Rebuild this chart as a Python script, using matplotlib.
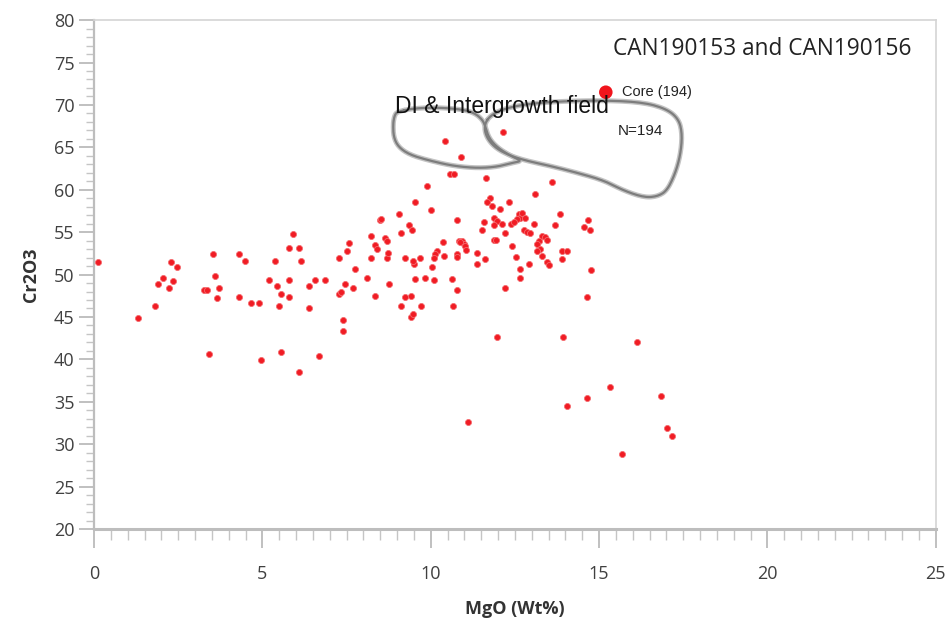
import numpy as np
import matplotlib
matplotlib.use("Agg")
import matplotlib.pyplot as plt
from matplotlib.ticker import MultipleLocator

# ---- data (MgO wt%, Cr2O3 wt%) ----
mgo = [
    0.13, 1.32, 1.81, 1.91, 2.04, 2.22, 2.34, 2.28, 2.47, 3.40, 3.54, 3.59, 3.28, 3.35, 3.71, 3.65,
    4.31, 4.48, 4.31, 4.66, 4.90, 4.96, 5.38, 5.20, 5.44, 5.55, 5.80, 5.50, 5.80, 5.55, 6.09, 5.91,
    5.80, 6.09, 6.14, 6.38, 6.57, 6.38, 6.87, 6.68, 7.27, 7.51, 7.58, 7.27, 7.33, 7.46, 7.76, 7.70,
    7.39, 7.39, 8.11, 8.22, 8.22, 8.34, 8.35, 8.40, 8.48, 8.53, 8.65, 8.70, 8.70, 8.75, 8.73,
    9.54, 10.01, 9.07, 9.35, 9.44, 9.13, 10.78, 10.36, 10.85, 10.93, 10.98, 10.88, 11.03, 11.06,
    10.19, 10.12, 10.38, 10.78, 10.78, 10.09, 10.04, 9.67, 9.49, 9.47, 9.25, 9.54, 9.84, 10.09,
    10.63, 10.79, 9.24, 9.42, 9.12, 9.72, 10.66, 9.42, 9.47, 9.90, 10.58, 10.70, 11.63, 10.43,
    10.90, 12.15,
    13.59, 13.11, 11.77, 11.67, 11.82, 12.07, 12.32, 12.61, 12.66, 12.56, 12.71, 12.81, 11.87,
    11.97, 12.12, 12.37, 12.46, 11.57, 11.52, 11.87, 12.22, 12.76, 12.86, 12.96, 13.06, 13.31,
    13.40, 13.21, 13.16, 13.26, 11.87, 11.95, 11.38, 11.38, 11.62, 12.42, 12.52, 12.65, 12.91,
    13.45, 13.50, 13.70, 13.83, 13.90, 14.05, 13.90, 12.64, 12.22, 14.66, 14.55, 14.72, 14.77,
    14.65, 13.45, 13.31, 13.16,
    11.97, 13.94, 16.13, 11.10, 14.06, 14.65, 15.32, 16.85, 17.03, 17.16, 15.67,
]
cr2o3 = [
    51.45, 44.9, 46.3, 48.9, 49.6, 48.4, 49.2, 51.45, 50.9, 40.6, 52.4, 49.8, 48.2, 48.2, 48.4, 47.2,
    52.4, 51.6, 47.3, 46.7, 46.7, 39.9, 51.6, 49.4, 48.6, 47.7, 47.4, 46.3, 49.4, 40.9, 38.5, 54.8,
    53.1, 53.1, 51.6, 48.6, 49.4, 46.0, 49.4, 40.4, 51.9, 52.8, 53.7, 47.7, 47.9, 48.9, 50.7, 48.4,
    44.6, 43.3, 49.6, 54.6, 51.9, 47.5, 53.5, 53.0, 56.4, 56.6, 54.3, 54.0, 52.0, 48.9, 52.5,
    58.5, 57.6, 57.1, 55.8, 55.3, 54.9, 56.4, 53.8, 54.0, 54.0, 53.6, 53.8, 53.4, 52.9,
    52.8, 52.4, 52.2, 52.4, 52.1, 52.0, 50.9, 52.0, 51.3, 51.6, 52.0, 49.5, 49.6, 49.4,
    49.5, 48.2, 47.3, 47.5, 46.3, 46.3, 46.3, 45.0, 45.3, 60.4, 61.85, 61.85, 61.4, 65.8,
    63.9, 66.8,
    60.9, 59.5, 59.0, 58.5, 58.1, 57.7, 58.5, 57.1, 56.7, 56.55, 57.3, 56.7, 56.7,
    56.35, 56.0, 56.0, 56.15, 56.2, 55.3, 55.8, 54.9, 55.2, 55.0, 54.9, 56.0, 54.6,
    54.4, 54.0, 53.6, 53.0, 54.1, 54.1, 52.6, 51.3, 51.85, 53.4, 52.1, 50.7, 51.3,
    51.45, 51.1, 55.8, 57.1, 52.8, 52.8, 51.85, 49.6, 48.4, 56.4, 55.6, 55.3, 50.5,
    47.3, 54.1, 52.2, 52.8,
    42.6, 42.6, 42.1, 32.6, 34.5, 35.45, 36.7, 35.7, 31.9, 31.0, 28.9,
]

core_mgo = [15.2]
core_cr2o3 = [71.5]

# field outlines (MgO, Cr2O3)
di_field_x = [9.00, 9.49, 10.19, 10.88, 11.28, 11.53, 11.62, 11.72, 11.97, 12.37, 12.71, 12.46,
              11.97, 11.38, 10.68, 10.00, 9.39, 9.05, 8.90, 8.88, 8.92]
di_field_y = [69.2, 69.6, 69.7, 69.5, 69.1, 68.3, 67.5, 66.15, 65.0, 64.0, 63.4, 63.2,
              62.7, 62.55, 62.8, 63.4, 64.1, 65.0, 66.15, 67.7, 68.7]

core_field_x = [11.62, 11.77, 12.07, 12.66, 13.65, 15.14, 16.33, 17.02, 17.37, 17.47, 17.42, 17.27,
                17.02, 16.73, 16.33, 15.73, 15.14, 14.35, 13.56, 12.86, 12.37, 11.97, 11.72, 11.60]
core_field_y = [67.92, 68.7, 69.4, 70.0, 70.4, 70.55, 70.3, 69.5, 68.3, 66.55, 64.2, 62.0,
                59.9, 59.2, 59.1, 59.9, 61.1, 62.0, 62.8, 63.4, 64.0, 64.8, 65.8, 66.9]

x_ticks = [0, 5, 10, 15, 20, 25]
y_ticks = [20, 25, 30, 35, 40, 45, 50, 55, 60, 65, 70, 75, 80]


def chaikin(xs, ys, n=3):
    p = np.column_stack([xs, ys]).astype(float)
    for _ in range(n):
        q = np.roll(p, -1, axis=0)
        a = 0.75 * p + 0.25 * q
        b = 0.25 * p + 0.75 * q
        p = np.empty((2 * len(a), 2))
        p[0::2] = a
        p[1::2] = b
    p = np.vstack([p, p[:1]])
    return p[:, 0], p[:, 1]


plt.rcParams['font.family'] = ['Open Sans', 'DejaVu Sans']

fig = plt.figure(figsize=(9.5, 6.29), dpi=100)
ax = fig.add_axes([0.099, 0.159, 0.886, 0.809])
ax.set_xlim(0, 25)
ax.set_ylim(20, 80)

# field outlines
for fx, fy in [(di_field_x, di_field_y), (core_field_x, core_field_y)]:
    sx, sy = chaikin(fx, fy)
    ax.plot(sx, sy, color='#c4c4c4', lw=3.6, zorder=2, solid_capstyle='round')
    ax.plot(sx, sy, color='#7d7d7d', lw=1.6, zorder=2.1)

ax.scatter(mgo, cr2o3, s=19, color='#f01c24', edgecolors='#f56a6e', linewidths=0.6, zorder=3)
ax.scatter(core_mgo, core_cr2o3, s=95, color='#f0141c', edgecolors='none', zorder=4)

# annotations
ax.text(15.68, 71.5, 'Core (194)', fontsize=10.5, family='Liberation Sans', color='#222222',
        va='center', ha='left', zorder=5)
ax.text(8.95, 69.8, 'DI & Intergrowth field', fontsize=16.5, family='Liberation Sans',
        color='#111111', va='center', ha='left', zorder=5)
ax.text(15.55, 66.9, 'N=194', fontsize=11, family='Liberation Sans', color='#222222',
        va='center', ha='left', zorder=5)
ax.text(0.971, 0.943, 'CAN190153 and CAN190156', transform=ax.transAxes, fontsize=16.3,
        color='#222222', ha='right', va='center')

# axes styling
ax.set_xticks(x_ticks)
ax.set_yticks(y_ticks)
ax.xaxis.set_minor_locator(MultipleLocator(0.5))
ax.yaxis.set_minor_locator(MultipleLocator(1))
ax.tick_params(axis='both', which='major', labelsize=13, labelcolor='#404040', color='#b5b5b5',
               width=1.2)
ax.tick_params(axis='y', which='major', length=11, pad=3)
ax.tick_params(axis='y', which='minor', length=6, color='#c5c5c5', width=1)
ax.tick_params(axis='x', which='major', length=14, pad=12)
ax.tick_params(axis='x', which='minor', length=8, color='#c5c5c5', width=1)

for side in ['top', 'right']:
    ax.spines[side].set_color('#d4d4d4')
    ax.spines[side].set_linewidth(1.2)
ax.spines['left'].set_color('#bdbdbd')
ax.spines['left'].set_linewidth(1.6)
ax.spines['bottom'].set_color('#bdbdbd')
ax.spines['bottom'].set_linewidth(2.2)

ax.set_xlabel('MgO (Wt%)', fontsize=13, fontweight='bold', color='#333333', labelpad=12)
ax.set_ylabel('Cr2O3', fontsize=13, fontweight='bold', color='#333333', labelpad=10)

fig.savefig('out.png', dpi=100)
